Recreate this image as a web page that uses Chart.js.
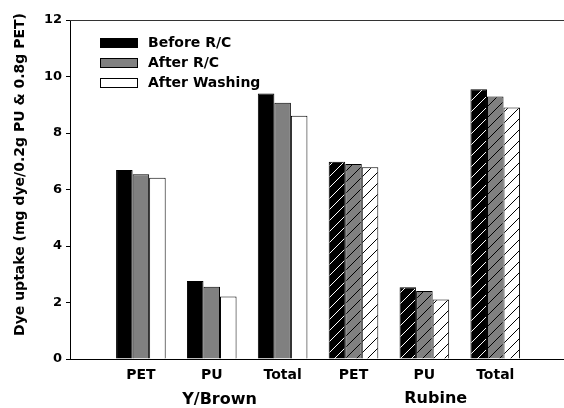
<!DOCTYPE html>
<html><head><meta charset="utf-8">
<script src="https://cdn.jsdelivr.net/npm/chart.js@4"></script>
<style>html,body{margin:0;padding:0;background:#fff;overflow:hidden}#wrap{width:564px;height:408px}</style>
</head><body><div id="wrap"><canvas id="c" width="564" height="408"></canvas></div>
<script>
const categories = ['PET','PU','Total','PET','PU','Total'];
const groups = ['Y/Brown','Rubine'];
const seriesNames = ['Before R/C','After R/C','After Washing'];
const beforeRC = [6.69, 2.76, 9.40, 6.98, 2.54, 9.55];
const afterRC = [6.54, 2.56, 9.07, 6.90, 2.41, 9.29];
const afterWashing = [6.42, 2.21, 8.61, 6.79, 2.11, 8.90];
const yTitle = 'Dye uptake (mg dye/0.2g PU & 0.8g PET)';

const FONT = '"DejaVu Sans", sans-serif';
const canvas = document.getElementById('c');
const ctx = canvas.getContext('2d');

function hatch(bg, fg){
  const s = 11;
  const c = document.createElement('canvas');
  c.width = s; c.height = s;
  const x = c.getContext('2d');
  x.fillStyle = bg; x.fillRect(0,0,s,s);
  x.fillStyle = fg;
  for (let i = 0; i < s; i++) x.fillRect(i, s - 1 - i, 1, 1);
  return ctx.createPattern(c, 'repeat');
}
const fills = ['#000000', '#808080', '#ffffff'];
const lines = ['#ffffff', '#000000', '#000000'];
const seriesValues = [beforeRC, afterRC, afterWashing];

const datasets = seriesValues.map((vals, s) => {
  const pat = hatch(fills[s], lines[s]);
  return {
    label: seriesNames[s],
    data: vals.map((v, i) => ({x: i + 1, y: v})),
    backgroundColor: vals.map((v, i) => i < 3 ? fills[s] : pat),
    borderColor: '#000',
    borderWidth: 1,
    categoryPercentage: 0.7,
    barPercentage: 1.0
  };
});

const deco = {
  id: 'deco',
  afterDraw(chart) {
    const {ctx, chartArea: a, scales: {x}} = chart;
    ctx.save();
    ctx.strokeStyle = '#333'; ctx.lineWidth = 1;
    ctx.beginPath(); ctx.moveTo(a.left, a.top + 0.5); ctx.lineTo(a.right, a.top + 0.5); ctx.stroke();
    ctx.font = 'bold 14px ' + FONT;
    ctx.textBaseline = 'middle'; ctx.textAlign = 'left';
    seriesNames.forEach((n, i) => {
      const y = a.top + 18 + i * 20;
      ctx.fillStyle = fills[i];
      ctx.fillRect(a.left + 30, y, 38, 10);
      ctx.strokeStyle = '#000';
      ctx.strokeRect(a.left + 30.5, y + 0.5, 37, 9);
      ctx.fillStyle = '#000';
      ctx.fillText(n, a.left + 78, y + 5.5);
    });
    ctx.save();
    ctx.translate(20, (a.top + a.bottom) / 2 - 15);
    ctx.rotate(-Math.PI / 2);
    ctx.textAlign = 'center';
    ctx.font = 'bold 14px ' + FONT;
    ctx.fillText(yTitle, 0, 0);
    ctx.restore();
    ctx.font = 'bold 16px ' + FONT;
    ctx.textAlign = 'center';
    ctx.fillText(groups[0], x.getPixelForValue(2.11), 400);
    ctx.fillText(groups[1], x.getPixelForValue(5.16), 399);
    ctx.restore();
  }
};

new Chart(ctx, {
  type: 'bar',
  data: { datasets },
  options: {
    responsive: false,
    animation: false,
    devicePixelRatio: 1,
    layout: { padding: { left: 0, right: 0, top: 20, bottom: 0 } },
    plugins: { legend: { display: false }, tooltip: { enabled: false } },
    scales: {
      x: {
        type: 'linear',
        min: 0, max: 6.97,
        offset: false,
        grid: { display: false, drawTicks: false, offset: false },
        border: { display: true, color: '#000', width: 1 },
        afterBuildTicks: (s) => { s.ticks = categories.map((c, i) => ({ value: i + 1 })); },
        afterFit: (s) => { s.height = 49; },
        ticks: {
          autoSkip: false, maxRotation: 0, minRotation: 0, padding: 8,
          color: '#000', font: { family: FONT, size: 14, weight: 'bold' },
          callback: (v) => categories[Math.round(v) - 1] || ''
        }
      },
      y: {
        min: 0, max: 12,
        afterFit: (s) => { s.width = 70; },
        grid: { drawOnChartArea: false, drawTicks: true, tickLength: 4, color: '#000', lineWidth: 1 },
        border: { display: true, color: '#000', width: 1 },
        ticks: { stepSize: 2, padding: 4, color: '#000', font: { family: FONT, size: 13, weight: 'bold' } }
      }
    }
  },
  plugins: [deco]
});
</script>
</body></html>
